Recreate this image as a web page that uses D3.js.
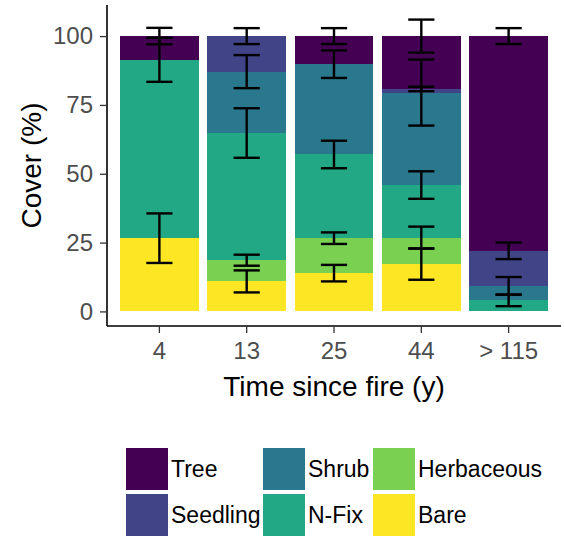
<!DOCTYPE html>
<html>
<head>
<meta charset="utf-8">
<script src="https://cdn.jsdelivr.net/npm/d3@7"></script>
<style>
  body { margin: 0; background: #fff; }
  text { font-family: "Liberation Sans", Arial, sans-serif; }
</style>
</head>
<body>
<script>
// Data (cover % per group, stacked bottom -> top)
const ages = ["4", "13", "25", "44", "> 115"];
const groups = ["Bare", "Herbaceous", "N-Fix", "Shrub", "Seedling", "Tree"];
const legendOrder = ["Tree", "Seedling", "Shrub", "N-Fix", "Herbaceous", "Bare"];
const colors = ["#FDE725", "#7AD151", "#22A884", "#2A788E", "#414487", "#440154"];

const bare       = [26.6, 10.9, 13.9, 17.2, 0];
const herbaceous = [0, 7.7, 12.7, 9.6, 0];
const nfix       = [64.8, 46.2, 30.4, 19.1, 4.0];
const shrub      = [0, 22.3, 32.8, 33.6, 5.3];
const seedling   = [0, 12.9, 0, 1.3, 12.7];
const tree       = [8.6, 0, 10.2, 19.2, 78.0];

// standard errors, same order
const seBare       = [9, 4, 3, 5.7, 0];
const seHerbaceous = [0, 2, 2.1, 4, 0];
const seNfix       = [8, 9, 5, 5, 2.1];
const seShrub      = [0, 6, 5, 12, 3.2];
const seSeedling   = [0, 2.9, 0, 0.8, 3];
const seTree       = [3, 0, 2.9, 6, 2.9];

const yTicks = [0, 25, 50, 75, 100];

const values = [bare, herbaceous, nfix, shrub, seedling, tree];
const ses = [seBare, seHerbaceous, seNfix, seShrub, seSeedling, seTree];

// layout
const width = 564, height = 550;
const mLeft = 107, mRight = 561, mTop = 5, mBottom = 326;

const svg = d3.select("body").append("svg")
  .attr("width", width)
  .attr("height", height);

const x = d3.scaleBand()
  .domain(ages)
  .range([mLeft, mRight])
  .paddingInner(0.1)
  .paddingOuter(0.15);

const y = d3.scaleLinear()
  .domain([-5.3, 111.3])
  .range([mBottom, mTop]);

const color = d3.scaleOrdinal().domain(groups).range(colors);

// build stacked rows
const rows = ages.map((a, i) => {
  const r = { age: a };
  groups.forEach((g, j) => { r[g] = values[j][i]; });
  return r;
});
const stacked = d3.stack().keys(groups)(rows);

// bars
svg.append("g").selectAll("g")
  .data(stacked)
  .join("g")
  .attr("fill", d => color(d.key))
  .selectAll("rect")
  .data(d => d)
  .join("rect")
  .attr("x", d => x(d.data.age))
  .attr("y", d => y(d[1]))
  .attr("width", x.bandwidth())
  .attr("height", d => y(d[0]) - y(d[1]))
  .attr("shape-rendering", "crispEdges");

// error bars at the top of each segment
const errs = [];
stacked.forEach((layer, j) => {
  layer.forEach((d, i) => {
    if (ses[j][i] > 0) errs.push({ age: ages[i], top: d[1], se: ses[j][i] });
  });
});

const capW = x.step() * 0.15;
const eg = svg.append("g").attr("stroke", "#000").attr("stroke-width", 2.4);
errs.forEach(e => {
  const cx = x(e.age) + x.bandwidth() / 2;
  eg.append("line")
    .attr("x1", cx).attr("x2", cx)
    .attr("y1", y(e.top + e.se)).attr("y2", y(e.top - e.se));
  [e.top + e.se, e.top - e.se].forEach(v => {
    eg.append("line")
      .attr("x1", cx - capW).attr("x2", cx + capW)
      .attr("y1", y(v)).attr("y2", y(v));
  });
});

// axes
const yAxis = d3.axisLeft(y).tickValues(yTicks).tickSize(7).tickPadding(7);
const xAxis = d3.axisBottom(x).tickSize(7).tickPadding(9);

const gy = svg.append("g")
  .attr("transform", "translate(" + mLeft + ",0)")
  .call(yAxis);
gy.select(".domain").attr("d", "M0," + mTop + "V" + mBottom).attr("stroke-width", 1.6);
gy.selectAll(".tick line").attr("stroke", "#333").attr("stroke-width", 1.3);
gy.selectAll(".tick text").attr("fill", "#4D4D4D").attr("font-size", 24)
  .attr("font-family", "Liberation Sans, Arial, sans-serif");

const gx = svg.append("g")
  .attr("transform", "translate(0," + mBottom + ")")
  .call(xAxis);
gx.select(".domain").attr("d", "M" + mLeft + ",0H" + mRight).attr("stroke-width", 1.6);
gx.selectAll(".tick line").attr("stroke", "#333").attr("stroke-width", 1.3);
gx.selectAll(".tick text").attr("fill", "#4D4D4D").attr("font-size", 24)
  .attr("font-family", "Liberation Sans, Arial, sans-serif");

// axis titles
svg.append("text")
  .attr("x", (mLeft + mRight) / 2)
  .attr("y", 396)
  .attr("text-anchor", "middle")
  .attr("font-size", 28)
  .text("Time since fire (y)");

svg.append("text")
  .attr("transform", "translate(41," + ((mTop + mBottom) / 2) + ") rotate(-90)")
  .attr("text-anchor", "middle")
  .attr("font-size", 28)
  .text("Cover (%)");

// legend: 2 rows, filled by column
const colX = [126, 263, 373];
const rowY = [448, 494];
const key = 42;
const lg = svg.append("g");
legendOrder.forEach((g, i) => {
  const cx = colX[Math.floor(i / 2)];
  const cy = rowY[i % 2];
  lg.append("rect")
    .attr("x", cx).attr("y", cy)
    .attr("width", key).attr("height", key)
    .attr("fill", color(g));
  lg.append("text")
    .attr("x", cx + key + 3)
    .attr("y", cy + key / 2 + 8)
    .attr("font-size", 23)
    .text(g);
});
</script>
</body>
</html>
